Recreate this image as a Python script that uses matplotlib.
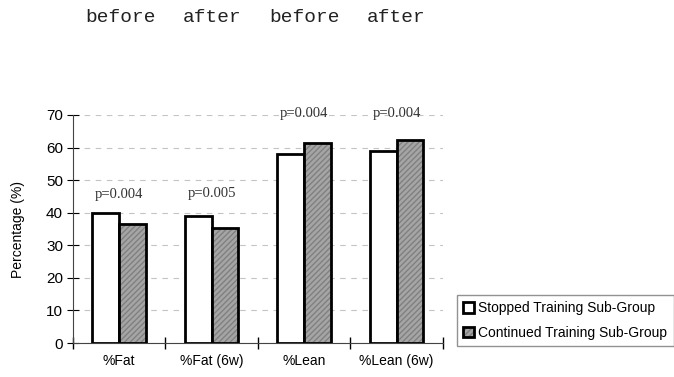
import numpy as np
import matplotlib.pyplot as plt

categories = ['%Fat', '%Fat (6w)', '%Lean', '%Lean (6w)']
stopped = [39.8, 39.0, 58.0, 58.9]
continued = [36.4, 35.4, 61.4, 62.3]
p_values = ['p=0.004', 'p=0.005', 'p=0.004', 'p=0.004']
top_words = ['before', 'after', 'before', 'after']

fig = plt.figure(figsize=(6.74, 3.77), dpi=100)
ax = fig.add_axes([0.108, 0.090, 0.549, 0.605])

x = np.arange(len(categories)) + 0.5
w = 0.29
b1 = ax.bar(x - w / 2, stopped, w, color='white', edgecolor='black', linewidth=2,
            label='Stopped Training Sub-Group', zorder=3)
b2 = ax.bar(x + w / 2, continued, w, color='#a5a5a5', edgecolor='black', linewidth=2,
            hatch='//////', label='Continued Training Sub-Group', zorder=3)
for bar in b2:
    bar._hatch_color = (0.5, 0.5, 0.5, 1.0)

# p labels sit just above the fat pairs, near the top line for the lean pairs
label_y = [45.5, 46.0, 70.6, 70.6]
for xi, ly, p in zip(x, label_y, p_values):
    ax.text(xi, ly, p, ha='center', va='center', family='Liberation Serif',
            fontsize=10.5, color='#333333', clip_on=False)

ax.set_xlim(0, 4)
ax.set_ylim(0, 70)
ax.set_yticks(range(0, 71, 10))
ax.set_xticks(range(0, 5), minor=False)
ax.set_xticklabels([])
ax.set_xticks(x, minor=True)
ax.set_xticklabels(categories, minor=True, family='Liberation Sans', fontsize=10)
ax.tick_params(axis='x', which='minor', length=0, pad=8)
ax.tick_params(axis='x', which='major', direction='inout', length=8, width=1)
ax.tick_params(axis='y', direction='inout', length=8, labelsize=11, pad=3)
for lab in ax.get_yticklabels():
    lab.set_family('Liberation Sans')

ax.yaxis.grid(True, linestyle=(0, (5, 5)), color='#c4c4c4', linewidth=0.8, zorder=0)
for s in ['top', 'right']:
    ax.spines[s].set_visible(False)
ax.spines['left'].set_color('#444444')
ax.spines['bottom'].set_color('#444444')
ax.set_ylabel('Percentage (%)', family='Liberation Sans', fontsize=10)
ax.yaxis.set_label_coords(-0.128, 0.5)

fig.legend(handles=[b1, b2], loc='lower left', bbox_to_anchor=(0.678, 0.082),
           prop={'family': 'Liberation Sans', 'size': 10}, frameon=True,
           fancybox=False, edgecolor='#777777', handlelength=0.8, handleheight=0.8,
           handletextpad=0.3, borderpad=0.45, labelspacing=0.75, borderaxespad=0)

word_x = [121, 212, 305, 396]
for wx, word in zip(word_x, top_words):
    fig.text(wx / 674, 1 - 17 / 377, word, ha='center', va='center',
             family='Liberation Mono', fontsize=14, color='#222222')

fig.savefig('out.png', dpi=100)
